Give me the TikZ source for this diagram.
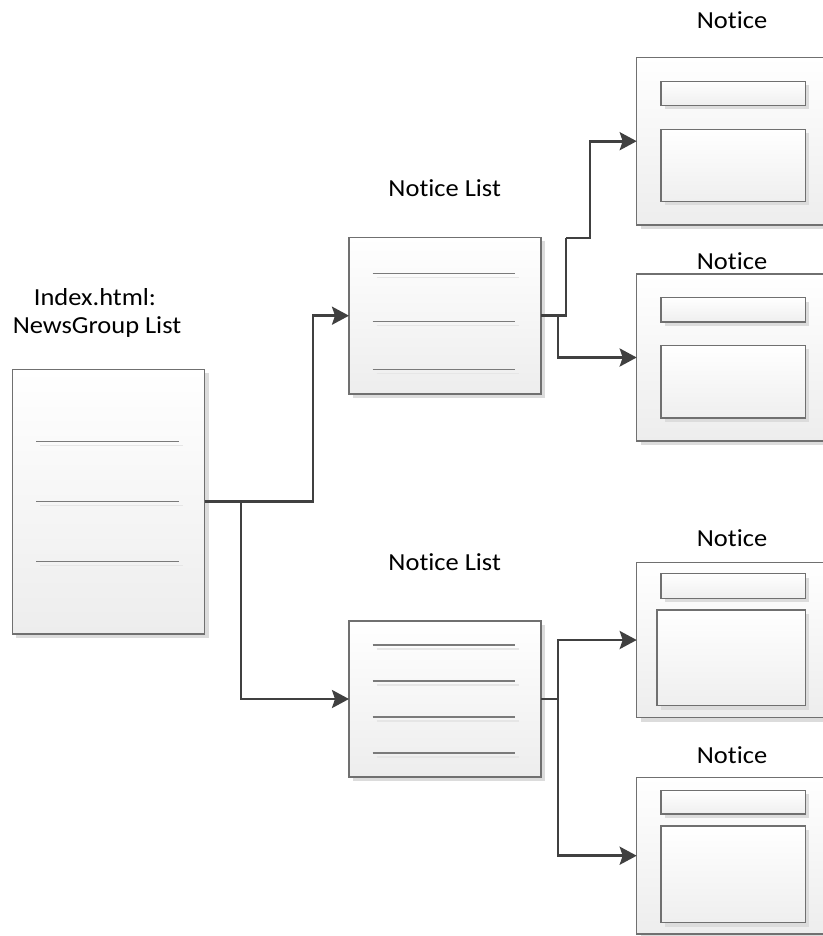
\documentclass[tikz,border=0pt]{standalone}
\usepackage{fontspec}
\setmainfont{Carlito}[FakeStretch=1.08, Ligatures={NoCommon,NoContextual}]
\usetikzlibrary{arrows.meta,shadows}

\definecolor{boxline}{HTML}{707070}
\definecolor{rulegray}{HTML}{7A7A7A}
\definecolor{conncol}{HTML}{404040}
\definecolor{fillbot}{HTML}{EDEDED}
\definecolor{shadowcol}{HTML}{DCDCDC}

% "Notice" with the t-i pair kept as separate letters
\newcommand{\ntcword}{Not\kern0pt ice}

\tikzset{
  sheet/.style={draw=boxline, line width=1.2pt, top color=white, bottom color=fillbot,
    inner sep=0pt, outer sep=0pt,
    drop shadow={shadow xshift=4pt, shadow yshift=-4pt, fill=shadowcol, opacity=1}},
  field/.style={draw=boxline, line width=1.2pt, top color=white, bottom color=fillbot!90!white,
    inner sep=0pt, outer sep=0pt,
    drop shadow={shadow xshift=4pt, shadow yshift=-4pt, fill=shadowcol, opacity=1}},
  rule/.style={draw=rulegray, line width=1.5pt},
  ruleshadow/.style={draw=shadowcol!70!white, line width=1.2pt},
  conn/.style={draw=conncol, line width=2.7pt,
    -{Stealth[length=17pt, width=18pt, inset=3pt]}},
  link/.style={draw=conncol, line width=2.7pt},
  lbl/.style={font=\fontsize{24.5}{28}\selectfont, anchor=base, inner sep=0pt},
}

% horizontal rule with its faint shadow, from x=#1 to x=#2 at y=#3
\newcommand{\listrule}[3]{%
  \draw[ruleshadow] (#1+4,#3+4) -- (#2+4,#3+4);
  \draw[rule] (#1,#3) -- (#2,#3);}

\begin{document}
\begin{tikzpicture}[x=1pt, y=-1pt]
\useasboundingbox (0,0) rectangle (822,936);

% ---------- index page ----------
\node[sheet, minimum width=192.4pt, minimum height=264.7pt] (index) at (108.5,501.7) {};
\listrule{36}{179}{441.7}
\listrule{36}{179}{501.7}
\listrule{36}{179}{561.7}
\node[lbl] (idxA) at (95,305) {Index.html:};
\node[lbl] (idxB) at (97,333) {NewsGroup List};

% ---------- notice lists ----------
\node[sheet, minimum width=192pt, minimum height=156.7pt] (list1) at (445,315.7) {};
\listrule{372.7}{515.3}{273.3}
\listrule{372.7}{515.3}{321.7}
\listrule{372.7}{515.3}{369.7}
\node[lbl] (list1lbl) at (444.7,196.7) {\ntcword{} List};

\node[sheet, minimum width=192pt, minimum height=156pt] (list2) at (445,699) {};
\listrule{372.7}{515.3}{645}
\listrule{372.7}{515.3}{681}
\listrule{372.7}{515.3}{717}
\listrule{372.7}{515.3}{753}
\node[lbl] (list2lbl) at (444.7,570) {\ntcword{} List};

% ---------- notices ----------
\node[sheet, minimum width=192pt, minimum height=167.7pt] (n1) at (732.7,141.2) {};
\node[field, minimum width=144.3pt, minimum height=24pt] (n1h) at (733.2,93.3) {};
\node[field, minimum width=144.3pt, minimum height=72pt] (n1b) at (733.2,165.3) {};
\node[lbl] (n1lbl) at (732,28.3) {\ntcword};

\node[sheet, minimum width=192pt, minimum height=167pt] (n2) at (732.7,357.5) {};
\node[field, minimum width=144.3pt, minimum height=24.3pt] (n2h) at (733.2,309.8) {};
\node[field, minimum width=144.3pt, minimum height=72.7pt] (n2b) at (733.2,381.7) {};
\node[lbl] (n2lbl) at (732,269) {\ntcword};

\node[sheet, minimum width=192pt, minimum height=155.4pt] (n3) at (732.7,640) {};
\node[field, minimum width=144.3pt, minimum height=24.6pt] (n3h) at (733.2,586) {};
\node[field, minimum width=148.3pt, minimum height=95.7pt] (n3b) at (731.2,657.8) {};
\node[lbl] (n3lbl) at (732,546) {\ntcword};

\node[sheet, minimum width=192pt, minimum height=156.7pt] (n4) at (732.7,855.7) {};
\node[field, minimum width=144.3pt, minimum height=23.7pt] (n4h) at (733.2,802.2) {};
\node[field, minimum width=144.3pt, minimum height=96.7pt] (n4b) at (733.2,874.3) {};
\node[lbl] (n4lbl) at (732,763) {\ntcword};

% ---------- connectors ----------
\coordinate (ja) at (313,0);
\coordinate (jb) at (241,0);
\coordinate (jc) at (566,238);
\coordinate (jd) at (590,0);
\coordinate (je) at (558,0);

\draw[conn] (index.east) -- (index.east -| ja) |- (list1.west);
\draw[conn] (index.east) -- (index.east -| jb) |- (list2.west);

\draw[link] (list1.east) -| (jc);
\draw[conn] (jc) -- (jc -| jd) |- (n1.west);
\draw[conn] (list1.east) -- (list1.east -| je) |- (n2.west);

\draw[conn] (list2.east) -- (list2.east -| je) |- (n3.west);
\draw[conn] (list2.east) -- (list2.east -| je) |- (n4.west);
\end{tikzpicture}
\end{document}
